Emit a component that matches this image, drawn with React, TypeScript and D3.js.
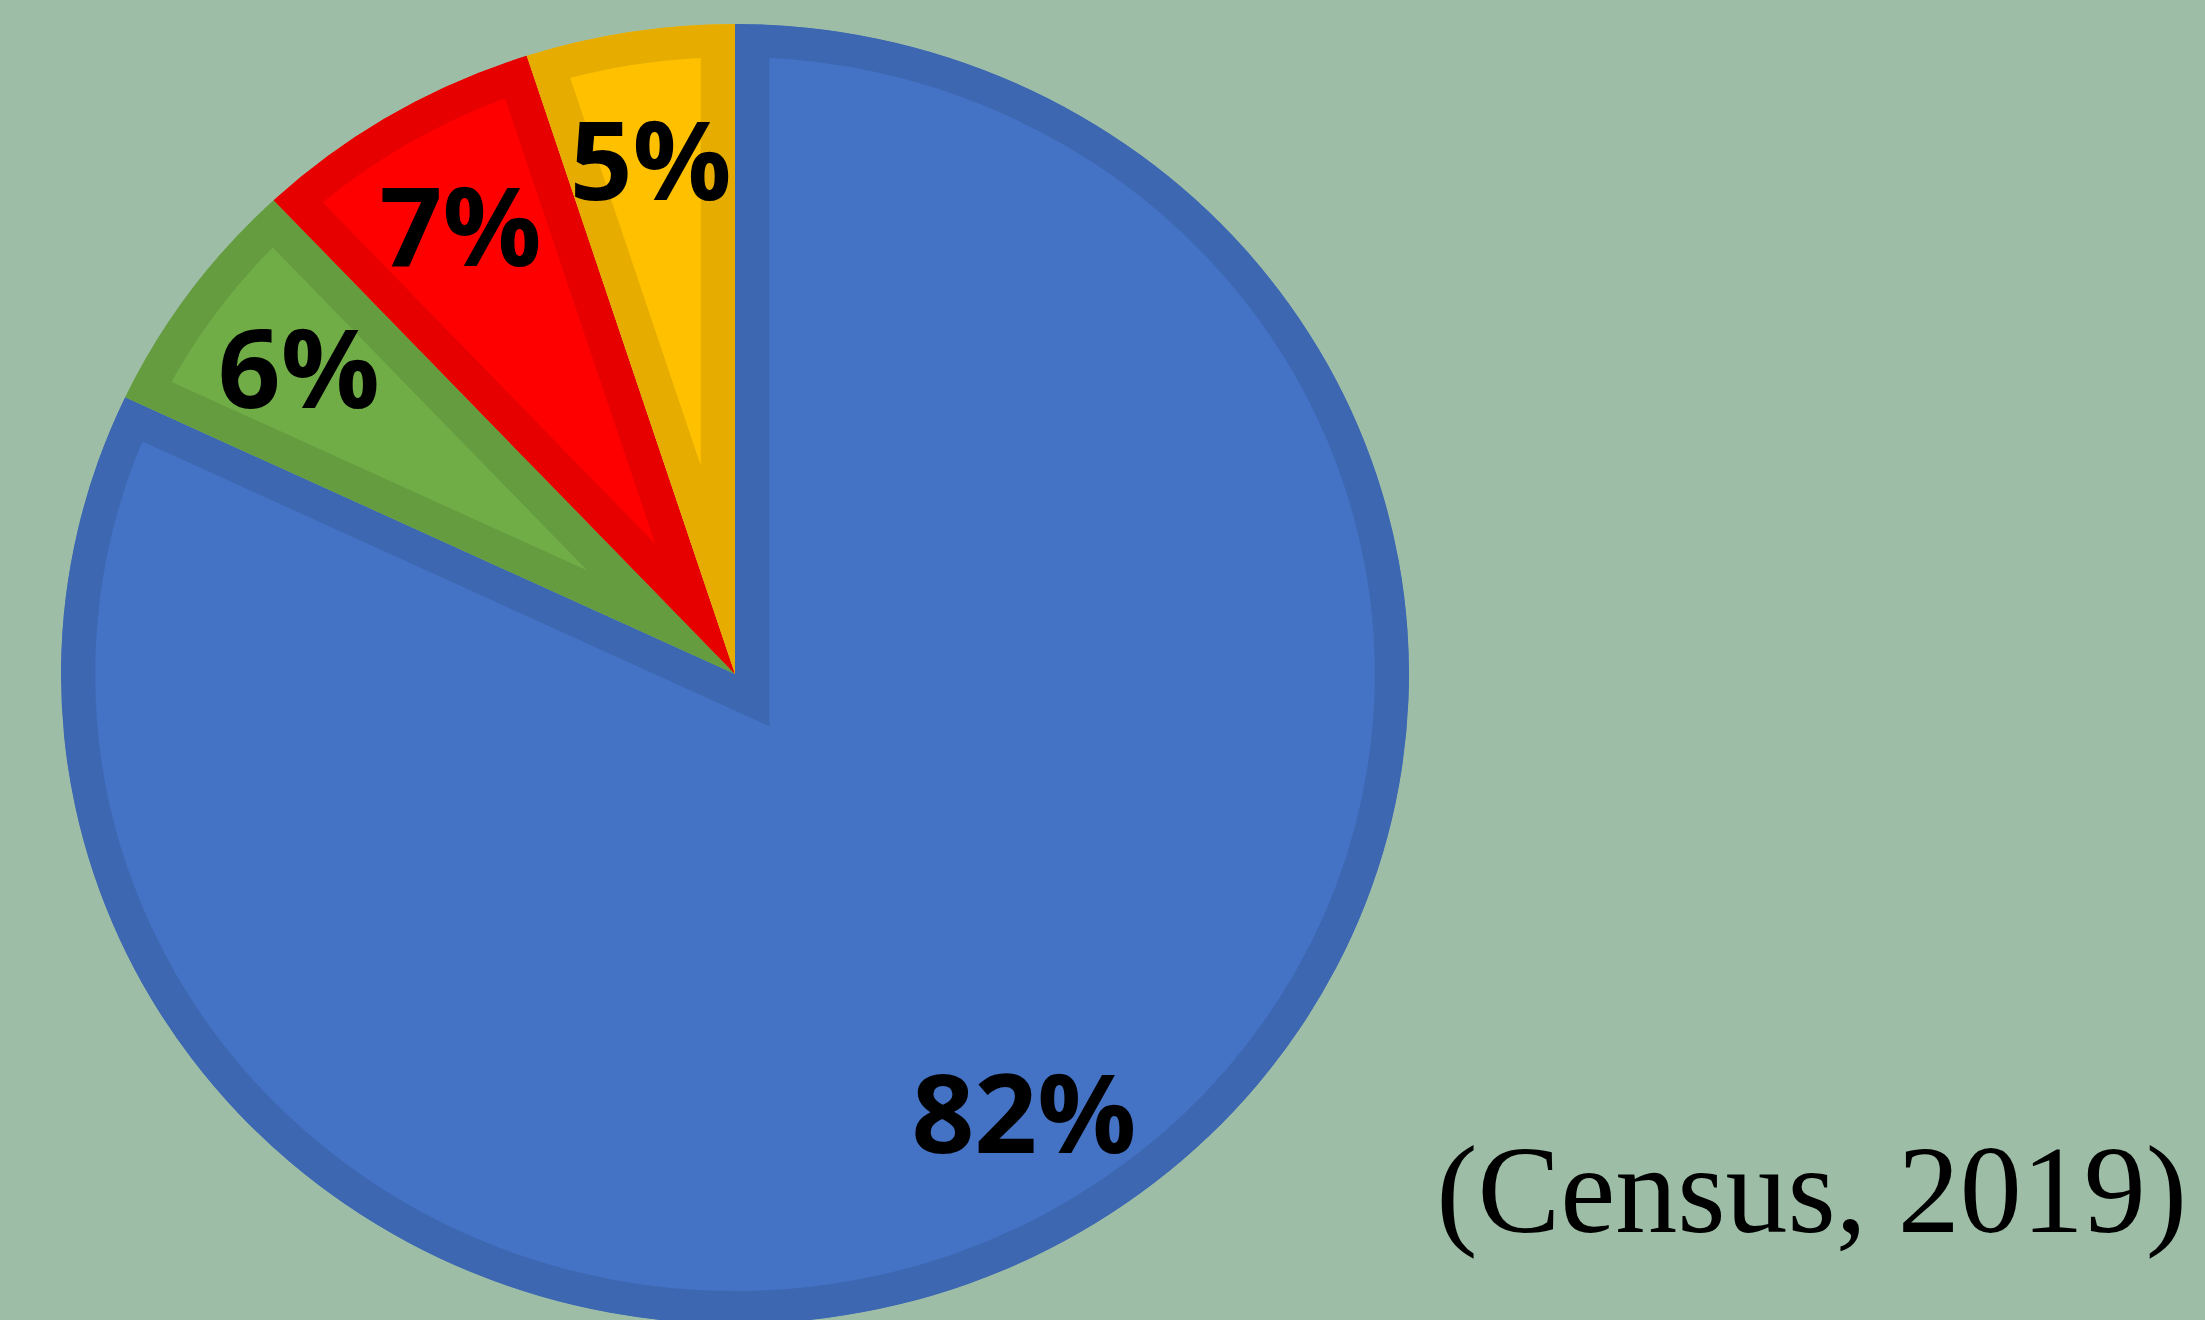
import * as d3 from "d3";

const SLICES = ["Group A", "Group B", "Group C", "Group D"];
const VALUES = [82, 6, 7, 5];
const SOURCE = "(Census, 2019)";

const FILLS = ["#4472c4", "#70ad47", "#ff0000", "#ffc000"];
const BORDERS = ["#3d67b0", "#659c40", "#e60000", "#e6ad00"];

const W = 2205;
const H = 1320;
const CX = 735;
const CY = 674;
const R = 650; // vertical radius
const SX = 674 / 650; // picture is a bit wider than tall
const BORDER = 33; // border sits inside each slice

export default function App() {
  const pie = d3
    .pie<number>()
    .sort(null)
    .value((d) => d);
  const arcs = pie(VALUES);

  const arc = d3.arc<d3.PieArcDatum<number>>().innerRadius(0).outerRadius(R);
  const labelArc = d3
    .arc<d3.PieArcDatum<number>>()
    .innerRadius(R * 0.8)
    .outerRadius(R * 0.8);

  const total = d3.sum(VALUES);
  const pct = d3.format(".0%");

  return (
    <svg
      width={W}
      height={H}
      style={{ position: "absolute", left: 0, top: 0, display: "block" }}
    >
      <rect width={W} height={H} fill="#9ebda6" />

      <defs>
        {arcs.map((a, i) => (
          <clipPath key={SLICES[i]} id={`slice-clip-${i}`}>
            <path d={arc(a) ?? ""} />
          </clipPath>
        ))}
      </defs>

      {/* slices, stretched horizontally like the source */}
      <g transform={`translate(${CX},${CY}) scale(${SX},1)`}>
        {arcs.map((a, i) => (
          <path
            key={SLICES[i]}
            d={arc(a) ?? ""}
            fill={FILLS[i]}
            stroke={BORDERS[i]}
            strokeWidth={BORDER * 2}
            strokeLinejoin="miter"
            clipPath={`url(#slice-clip-${i})`}
          />
        ))}
      </g>

      {/* percentage labels */}
      {arcs.map((a, i) => {
        const [x, y] = labelArc.centroid(a);
        return (
          <text
            key={SLICES[i]}
            x={CX + x * SX}
            y={CY + y}
            dy="0.36em"
            textAnchor="middle"
            fontFamily="'Open Sans', sans-serif"
            fontWeight={700}
            fontSize={110}
            fill="#000"
          >
            {pct(VALUES[i] / total)}
          </text>
        );
      })}

      <text
        x={2187}
        y={1232}
        textAnchor="end"
        fontFamily="'Liberation Serif', serif"
        fontSize={124}
        fill="#000"
      >
        {SOURCE}
      </text>
    </svg>
  );
}
